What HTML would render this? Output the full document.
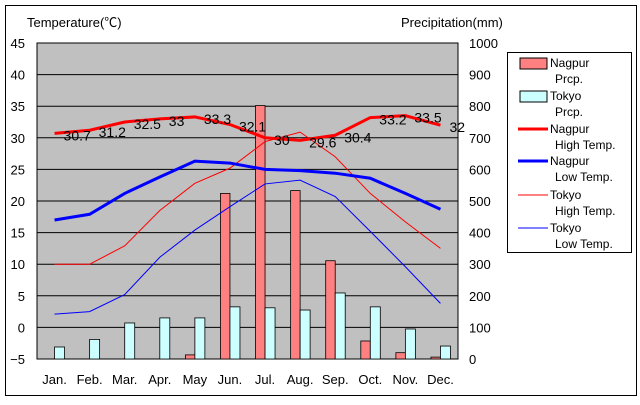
<!DOCTYPE html>
<html><head><meta charset="utf-8"><style>
body{margin:0;background:#fff;}
svg text{font-family:"Liberation Sans","Noto Sans CJK JP",sans-serif;}
</style></head><body>
<svg id="chart" width="640" height="400" xmlns="http://www.w3.org/2000/svg">
<rect x="5.5" y="5.5" width="631" height="390" fill="#fff" stroke="#000"/>
<rect x="37" y="43" width="421" height="316" fill="#c0c0c0" stroke="#000"/>
<text x="27" y="27" font-size="13">Temperature(℃)</text>
<text x="401" y="27" font-size="13">Precipitation(mm)</text>
<g id="grid"></g><g id="bars"></g><g id="lines"></g><g id="labels"></g>
<g>
<rect x="507.5" y="52.5" width="124" height="200" fill="#fff" stroke="#000"/>
<rect x="520" y="58" width="27" height="11" fill="#ff8080" stroke="#000"/>
<text x="550" y="67" font-size="12">Nagpur</text>
<text x="555" y="83" font-size="12">Prcp.</text>
<rect x="520" y="91" width="27" height="11" fill="#ccffff" stroke="#000"/>
<text x="550" y="100" font-size="12">Tokyo</text>
<text x="555" y="116" font-size="12">Prcp.</text>
<line x1="518" y1="129" x2="548" y2="129" stroke="#f00" stroke-width="3"/>
<text x="550" y="133" font-size="12">Nagpur</text>
<text x="555" y="149" font-size="12">High Temp.</text>
<line x1="518" y1="161" x2="548" y2="161" stroke="#00f" stroke-width="3"/>
<text x="550" y="165" font-size="12">Nagpur</text>
<text x="555" y="181" font-size="12">Low Temp.</text>
<line x1="518" y1="195" x2="548" y2="195" stroke="#f00" stroke-width="1"/>
<text x="550" y="199" font-size="12">Tokyo</text>
<text x="555" y="215" font-size="12">High Temp.</text>
<line x1="518" y1="228" x2="548" y2="228" stroke="#00f" stroke-width="1"/>
<text x="550" y="232" font-size="12">Tokyo</text>
<text x="555" y="248" font-size="12">Low Temp.</text>
</g>
</svg>
<script>
const months=["Jan.","Feb.","Mar.","Apr.","May","Jun.","Jul.","Aug.","Sep.","Oct.","Nov.","Dec."];
const tempTicks=[-5,0,5,10,15,20,25,30,35,40,45];
const precTicks=[0,100,200,300,400,500,600,700,800,900,1000];
const nagpurPrcp=[0,0,0,0,13,524,802,533,311,57,20,6];
const tokyoPrcp=[38,62,114,130,130,165,162,155,209,165,95,41];
const nagpurHigh=[30.7,31.2,32.5,33,33.3,32.1,30,29.6,30.4,33.2,33.5,32];
const nagpurLow=[17,17.9,21.2,23.8,26.3,26,25,24.8,24.4,23.6,21.2,18.7];
const tokyoHigh=[10,10,12.9,18.5,22.8,25.2,29.4,30.9,27,21.2,16.7,12.5];
const tokyoLow=[2.1,2.5,5.2,11.1,15.4,19.1,22.7,23.3,20.7,15.2,9.6,3.8];
const L=37,R=458,T=43,B=359,NS="http://www.w3.org/2000/svg";
const bw=(R-L)/12;
const xc=i=>L+bw*(i+0.5);
const yT=v=>B-(v+5)/50*(B-T);
const yP=v=>B-v/1000*(B-T);
function mk(tag,attrs,parent,txt){const e=document.createElementNS(NS,tag);for(const k in attrs)e.setAttribute(k,attrs[k]);if(txt!==undefined)e.textContent=txt;document.getElementById(parent).appendChild(e);return e;}
tempTicks.forEach(t=>{
  const y=yT(t);
  if(t>-5&&t<45){const g=mk('line',{x1:L,x2:R,y1:y,y2:y,stroke:'#000','stroke-width':1},'grid');
  
  }
  const tx=mk('text',{x:25,y:y+5,'font-size':13,'text-anchor':'end'},'grid',t<0?'−'+(-t):String(t));
  
  
});
precTicks.forEach(p=>{
  const tx=mk('text',{x:469,y:yP(p)+5,'font-size':13},'grid',String(p));
  
  
});
months.forEach((m,i)=>{
  const tx=mk('text',{x:xc(i),y:384,'font-size':13,'text-anchor':'middle'},'grid',m);
  
  
});
nagpurPrcp.forEach((v,i)=>{
  if(v<=0)return;
  const b=mk('rect',{x:xc(i)-9.5,y:yP(v),width:9.5,height:B-yP(v),fill:'#ff8080',stroke:'#000','stroke-width':0.8},'bars');
  
  
});
tokyoPrcp.forEach((v,i)=>{
  const b=mk('rect',{x:xc(i),y:yP(v),width:10,height:B-yP(v),fill:'#ccffff',stroke:'#000','stroke-width':0.8},'bars');
  
  
});
function line(arr,color,w,name){
  const pts=arr.map((v,i)=>xc(i)+','+yT(v)).join(' ');
  const p=mk('polyline',{points:pts,fill:'none',stroke:color,'stroke-width':w},'lines');
  
  
}
line(tokyoHigh,'#f00',1,'line-tokyo-high');
line(tokyoLow,'#00f',1,'line-tokyo-low');
line(nagpurLow,'#00f',3,'line-nagpur-low');
line(nagpurHigh,'#f00',3,'line-nagpur-high');
nagpurHigh.forEach((v,i)=>{
  const tx=mk('text',{x:xc(i)+9,y:yT(v)+7,'font-size':14},'labels',String(v));
  
  
});
</script>
</body></html>
